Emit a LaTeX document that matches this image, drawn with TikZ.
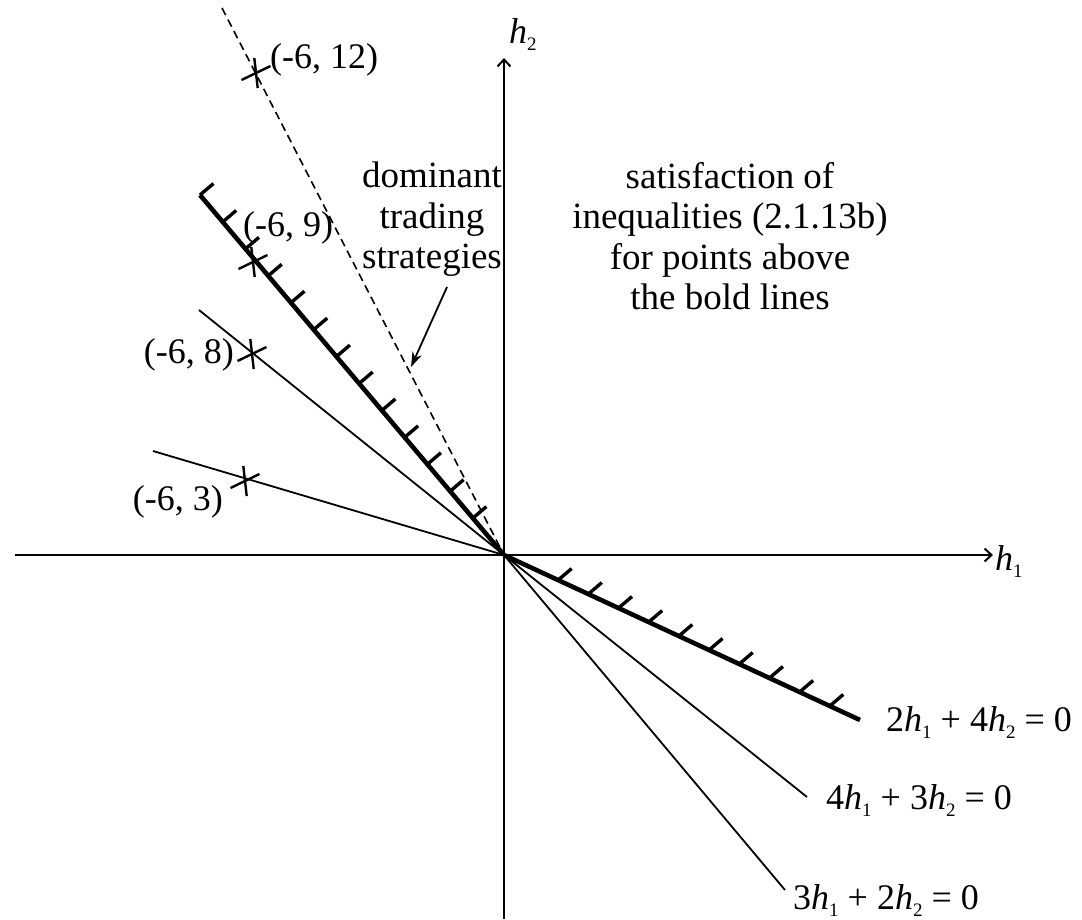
\documentclass[tikz,border=0pt]{standalone}
\usepackage{fontspec}
\setmainfont{Liberation Serif}
\usetikzlibrary{calc,arrows.meta}
\newcommand\hsub[2]{\textit{#1}\raisebox{-7pt}{\fontsize{19}{19}\selectfont #2}}
\begin{document}
\begin{tikzpicture}[x=1pt,y=-1pt,
  txt/.style={font=\fontsize{36}{40}\selectfont, inner sep=0pt, text=black},
  bigtxt/.style={font=\fontsize{37}{40.5}\selectfont, inner sep=0pt, text=black, align=center, anchor=north},
  thinline/.style={line width=1.8pt},
  boldline/.style={line width=4.6pt},
  axisline/.style={line width=2.2pt, -{Straight Barb[length=7pt,width=13pt,line width=2pt]}},
  hatchmark/.style={line width=3.4pt},
  crossmark/.style={line width=2.4pt},
  dashline/.style={line width=1.6pt, dash pattern=on 8pt off 5pt},
  pointer/.style={line width=1.8pt, -{Stealth[length=15pt,width=10pt]}},
  xcross/.pic={\draw[crossmark] (-14.5,7) -- (14.5,-7); \draw[crossmark] (-1.7,-15) -- (1.7,15);}
]
\useasboundingbox (0,0) rectangle (1082,919);
% origin and axes
\coordinate (O) at (504,555);
\coordinate (xl) at (15,555);
\coordinate (xr) at (993,555);
\coordinate (yb) at (504,919);
\coordinate (yt) at (504,58);
\draw[axisline] (xl) -- (xr);
\draw[axisline] (yb) -- (yt);
\node[txt, anchor=base west] (h1lab) at (995,570) {\hsub{h}{1}};
\node[txt, anchor=base west] (h2lab) at (509,43) {\hsub{h}{2}};
% line end points
\coordinate (D) at (222,8);      % dashed line
\coordinate (A) at (200,195);    % bold upper-left
\coordinate (A2) at (785,890);   % continuation 3h1+2h2
\coordinate (B) at (860,720);    % bold lower-right
\coordinate (C1) at (199,310);   % 4h1+3h2
\coordinate (C2) at (807,797);
\coordinate (E) at (153,451);    % through (-6,3)
% lines
\draw[dashline] (D) -- (O);
\draw[boldline] (A) -- (O);
\draw[thinline] (O) -- (A2);
\draw[boldline] (O) -- (B);
\draw[thinline] (C1) -- (O) -- (C2);
\draw[thinline] (E) -- (O);
% hatching
\foreach \k [evaluate=\k as \t using \k*0.0748] in {0,...,12}
  \draw[hatchmark] ($(A)!\t!(O)$) -- ++(13.5,-11.5);
\foreach \k [evaluate=\k as \t using 0.152+\k*0.0848] in {0,...,9}
  \draw[hatchmark] ($(O)!\t!(B)$) -- ++(13.5,-11.5);
% marked points
\coordinate (P12) at (256,73);
\coordinate (P9) at (253,262);
\coordinate (P8) at (252,354);
\coordinate (P3) at (245,481);
\pic at (P12) {xcross};
\pic at (P9) {xcross};
\pic at (P8) {xcross};
\pic at (P3) {xcross};
\node[txt, anchor=base west] (L12) at (270,68) {(-6, 12)};
\node[txt, anchor=base west] (L9) at (243,236) {(-6, 9)};
\node[txt, anchor=base east] (L8) at (234,363) {(-6, 8)};
\node[txt, anchor=base east] (L3) at (223,510) {(-6, 3)};
% text blocks
\node[bigtxt] (dom) at (432,162) {dominant\\trading\\strategies};
\node[bigtxt] (sat) at (730,162) {satisfaction of\\inequalities (2.1.13b)\\for points above\\the bold lines};
\coordinate (ar1) at (447,287);
\coordinate (ar2) at (411,367);
\draw[pointer] (ar1) -- (ar2);
% equation labels
\node[txt, anchor=west] (eq1) at (886,722) {2\hsub{h}{1} + 4\hsub{h}{2} = 0};
\node[txt, anchor=west] (eq2) at (826,800) {4\hsub{h}{1} + 3\hsub{h}{2} = 0};
\node[txt, anchor=west] (eq3) at (793,900) {3\hsub{h}{1} + 2\hsub{h}{2} = 0};
\end{tikzpicture}
\end{document}
